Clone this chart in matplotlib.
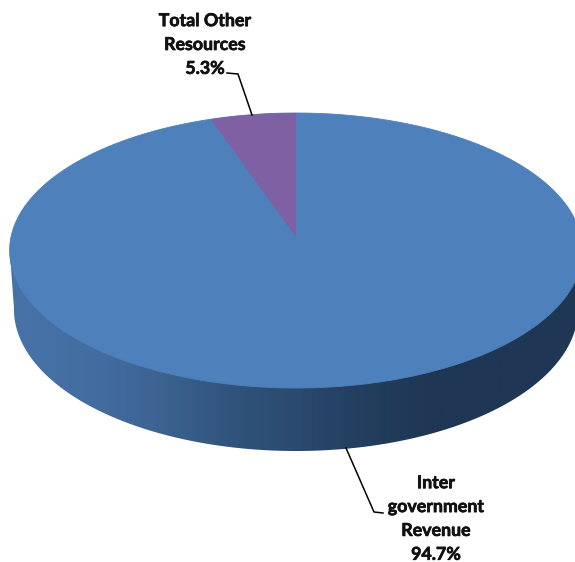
import numpy as np
import matplotlib
matplotlib.use('Agg')
import matplotlib.pyplot as plt
import matplotlib.patheffects as pe
from matplotlib.colors import LinearSegmentedColormap
from matplotlib.patches import Polygon

shares = [5.3, 94.7]
names = ['Total Other\nResources\n5.3%', 'Inter\ngovernment\nRevenue\n94.7%']
colors = ['#7f60a2', '#4e80bb']

# side wall shading, left to right
wall_cmap = LinearSegmentedColormap.from_list('wall', [
    (0.00, '#4773aa'), (0.15, '#436da0'), (0.25, '#3d6493'),
    (0.38, '#31557d'), (0.50, '#2b4a6f'), (0.62, '#233e5e'),
    (0.75, '#1f3654'), (1.00, '#1f3855'),
])

cx, apex_y = 296.0, 237.0
rx = 285.0
persp = 0.0982
tilt = -112.9


def project(theta, shrink=1.0, drop=False):
    # theta in degrees, clockwise from the far side of the disc
    t = np.radians(theta)
    u = np.sin(t)
    v = np.cos(t)
    den = 1 + persp * v
    x = cx + shrink * rx * u / den
    y = (tilt * v + apex_y) / den
    if drop:
        y = y + 58 - 5 * v
    return np.column_stack([x, y])


fig = plt.figure(figsize=(5.75, 5.62), dpi=100)
ax = fig.add_axes([0, 0, 1, 1])

# side wall, clipped gradient under the top face
front = np.linspace(95, 265, 240)
wall_pts = project(front, shrink=0.985, drop=True)
wall_pts = np.vstack([project(np.array([95.0])), wall_pts, project(np.array([265.0]))])
wall = Polygon(wall_pts, closed=True, fc='none', ec='none')
ax.add_patch(wall)
grad = np.linspace(0, 1, 400).reshape(1, -1)
im = ax.imshow(grad, extent=[10, 580, 562, 0], cmap=wall_cmap, aspect='auto')
im.set_clip_path(wall)

# top face, slices run counter-clockwise from twelve o'clock
edges = 360 * np.cumsum([0] + shares) / sum(shares)
full = Polygon(project(np.linspace(0, 360, 720)), closed=True, fc=colors[1], ec=colors[1], lw=0.6)
ax.add_patch(full)
small = np.linspace(-edges[1], 0, 40)
pts = np.vstack([[cx, apex_y], project(small)])
ax.add_patch(Polygon(pts, closed=True, fc=colors[0], ec='none'))

# leader lines
ax.plot([227, 238, 252], [73, 74, 115], color='black', lw=1.1)
ax.plot([346, 374, 383], [448, 512, 513], color='black', lw=1.1)

font = dict(family='Lato', fontweight='bold', fontsize=12.8, color='#111111',
            ha='center', va='center', linespacing=1.49,
            path_effects=[pe.withStroke(linewidth=0.5, foreground='#111111')])
ax.text(205, 44.5, names[0], **font)
ax.text(436, 518.5, names[1], **font)

ax.set_xlim(0, 575)
ax.set_ylim(562, 0)
ax.axis('off')
fig.savefig('out.png', dpi=100)
